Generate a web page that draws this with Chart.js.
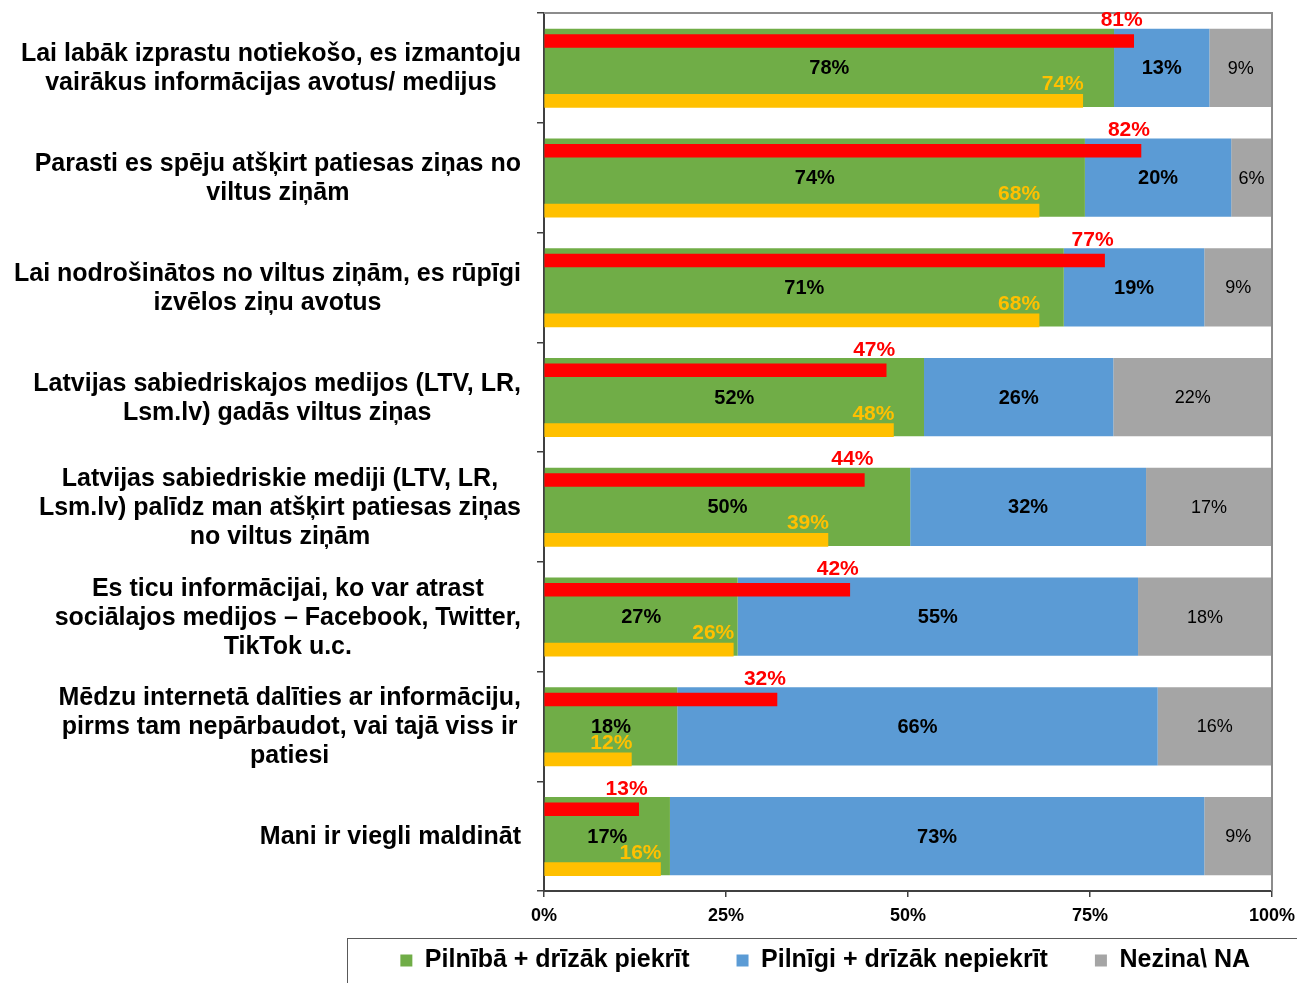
<!DOCTYPE html>
<html><head><meta charset="utf-8">
<script src="https://cdn.jsdelivr.net/npm/chart.js@4.4.1/dist/chart.umd.min.js"></script>
<style>html,body{margin:0;padding:0;background:#fff}#wrap{width:1297px;height:983px;position:relative}</style>
</head><body><div id="wrap"><canvas id="c" width="1297" height="983"></canvas></div>
<script>
const categories = [
  ["Lai labāk izprastu notiekošo, es izmantoju", "vairākus informācijas avotus/ medijus"],
  ["Parasti es spēju atšķirt patiesas ziņas no", "viltus ziņām"],
  ["Lai nodrošinātos no viltus ziņām, es rūpīgi", "izvēlos ziņu avotus"],
  ["Latvijas sabiedriskajos medijos (LTV, LR,", "Lsm.lv) gadās viltus ziņas"],
  ["Latvijas sabiedriskie mediji (LTV, LR,", "Lsm.lv) palīdz man atšķirt patiesas ziņas", "no viltus ziņām"],
  ["Es ticu informācijai, ko var atrast", "sociālajos medijos – Facebook, Twitter,", "TikTok u.c."],
  ["Mēdzu internetā dalīties ar informāciju,", "pirms tam nepārbaudot, vai tajā viss ir", "patiesi"],
  ["Mani ir viegli maldināt"]
];
const agree      = [78.3, 74.3, 71.4, 52.2, 50.3, 26.6, 18.3, 17.3];
const disagree   = [13.1, 20.1, 19.3, 26.0, 32.4, 55.0, 66.0, 73.4];
const dontKnow   = [8.6, 5.6, 9.3, 21.8, 17.3, 18.4, 15.7, 9.3];
const agreeRed   = [81, 82, 77, 47, 44, 42, 32, 13];
const agreeYellow= [74, 68, 68, 48, 39, 26, 12, 16];
const xTicks     = [0, 25, 50, 75, 100];
const seriesNames = ["Pilnībā + drīzāk piekrīt", "Pilnīgi + drīzāk nepiekrīt", "Nezina\\ NA"];

const FONT = "'Liberation Sans', Arial, sans-serif";
const RED_OFF = -0.245, YEL_OFF = 0.30;

const labelPlugin = {
  id: 'vlabels',
  afterDatasetsDraw(chart) {
    const ctx = chart.ctx;
    const area = chart.chartArea;
    ctx.save();
    ctx.strokeStyle = '#8c8c8c';
    ctx.lineWidth = 2;
    ctx.beginPath();
    ctx.moveTo(area.left, area.top); ctx.lineTo(area.right, area.top); ctx.lineTo(area.right, area.bottom);
    ctx.stroke();
    ctx.restore();
    chart.data.datasets.forEach((ds, di) => {
      const meta = chart.getDatasetMeta(di);
      meta.data.forEach((bar, i) => {
        const raw = ds.data[i];
        const v = (typeof raw === 'object') ? raw.x : raw;
        const txt = Math.round(v) + '%';
        ctx.save();
        ctx.textAlign = 'center';
        if (ds.kind === 'main') {
          ctx.font = ds.labelBold ? 'bold 20px ' + FONT : '18px ' + FONT;
          ctx.fillStyle = '#000';
          ctx.textBaseline = 'middle';
          ctx.fillText(txt, (bar.x + bar.base) / 2, bar.y + 1);
        } else {
          ctx.font = 'bold 21px ' + FONT;
          ctx.fillStyle = ds.backgroundColor;
          ctx.textBaseline = 'alphabetic';
          const top = bar.y - bar.height / 2;
          ctx.fillText(txt, bar.x + ds.labelDx, top - ds.labelDy);
        }
        ctx.restore();
      });
    });
  },
  afterDraw(chart) {
    const ctx = chart.ctx;
    const y = chart.scales.y;
    ctx.save();
    ctx.font = 'bold 25px ' + FONT;
    ctx.fillStyle = '#000';
    ctx.textAlign = 'center';
    ctx.textBaseline = 'middle';
    const rightEdge = y.right - 23;
    const lh = 29;
    categories.forEach((lines, i) => {
      const cy = y.getPixelForValue(i) + 1;
      const w = Math.max(...lines.map(l => ctx.measureText(l).width));
      const cx = rightEdge - w / 2;
      const y0 = cy - (lines.length - 1) * lh / 2;
      lines.forEach((l, k) => ctx.fillText(l, cx, y0 + k * lh));
    });
    const lg = chart.legend;
    if (lg && lg.legendHitBoxes && lg.legendHitBoxes.length) {
      const hb = lg.legendHitBoxes[0];
      ctx.strokeStyle = '#595959';
      ctx.lineWidth = 1;
      ctx.strokeRect(Math.round(hb.left - 53) + 0.5, Math.round(lg.top + 37) + 0.5, 2000, 200);
    }
    ctx.restore();
  }
};

const mainBar = { barPercentage: 0.715, categoryPercentage: 1.0, borderWidth: 0, order: 2, kind: 'main',
                  stack: 's', yAxisID: 'y', grouped: false };

new Chart(document.getElementById('c'), {
  type: 'bar',
  data: {
    labels: categories,
    datasets: [
      Object.assign({ label: seriesNames[0], data: agree, backgroundColor: '#70AD47', labelBold: true }, mainBar),
      Object.assign({ label: seriesNames[1], data: disagree, backgroundColor: '#5B9BD5', labelBold: true }, mainBar),
      Object.assign({ label: seriesNames[2], data: dontKnow, backgroundColor: '#A5A5A5', labelBold: false }, mainBar),
      { label: 'red', kind: 'red', data: agreeRed.map((v, i) => ({ x: v, y: i + RED_OFF })), backgroundColor: '#FF0000',
        yAxisID: 'y2', grouped: false, barThickness: 13, order: 1, stack: 'r', labelDx: -12, labelDy: 8 },
      { label: 'yellow', kind: 'yellow', data: agreeYellow.map((v, i) => ({ x: v, y: i + YEL_OFF })), backgroundColor: '#FFC000',
        yAxisID: 'y2', grouped: false, barThickness: 13, order: 1, stack: 'yl', labelDx: -20, labelDy: 4 }
    ]
  },
  options: {
    indexAxis: 'y',
    responsive: false,
    animation: false,
    devicePixelRatio: 1,
    layout: { padding: { top: 13, right: 0, left: 0, bottom: 0 } },
    scales: {
      x: {
        type: 'linear', min: 0, max: 100, stacked: true,
        afterBuildTicks: (s) => { s.ticks = xTicks.map(v => ({ value: v })); },
        afterFit: (s) => { s.height = 10; s.paddingRight = 25; },
        grid: { drawOnChartArea: false, drawTicks: true, tickLength: 6, color: '#404040', lineWidth: 1.5 },
        border: { color: '#404040', width: 2 },
        ticks: { color: '#000', font: { family: FONT, size: 18, weight: 'bold' }, padding: -36, mirror: true, maxRotation: 0,
                 callback: (v) => v + '%' }
      },
      y: {
        type: 'category', stacked: true, offset: true,
        afterFit: (s) => { s.width = 544; },
        grid: { drawOnChartArea: false, drawTicks: true, tickLength: 7, offset: true, color: '#404040', lineWidth: 1.5 },
        border: { color: '#404040', width: 2 },
        ticks: { display: false }
      },
      y2: { type: 'linear', display: false, offset: false, grid: { offset: false }, min: -0.5, max: 7.5, reverse: true }
    },
    plugins: {
      tooltip: { enabled: false },
      legend: {
        position: 'bottom', align: 'end',
        labels: {
          filter: (item) => item.datasetIndex < 3,
          boxWidth: 12, boxHeight: 12, padding: 47, color: '#000',
          font: { family: FONT, size: 25, weight: 'bold' }
        }
      }
    }
  },
  plugins: [labelPlugin]
});
</script>
</body></html>
